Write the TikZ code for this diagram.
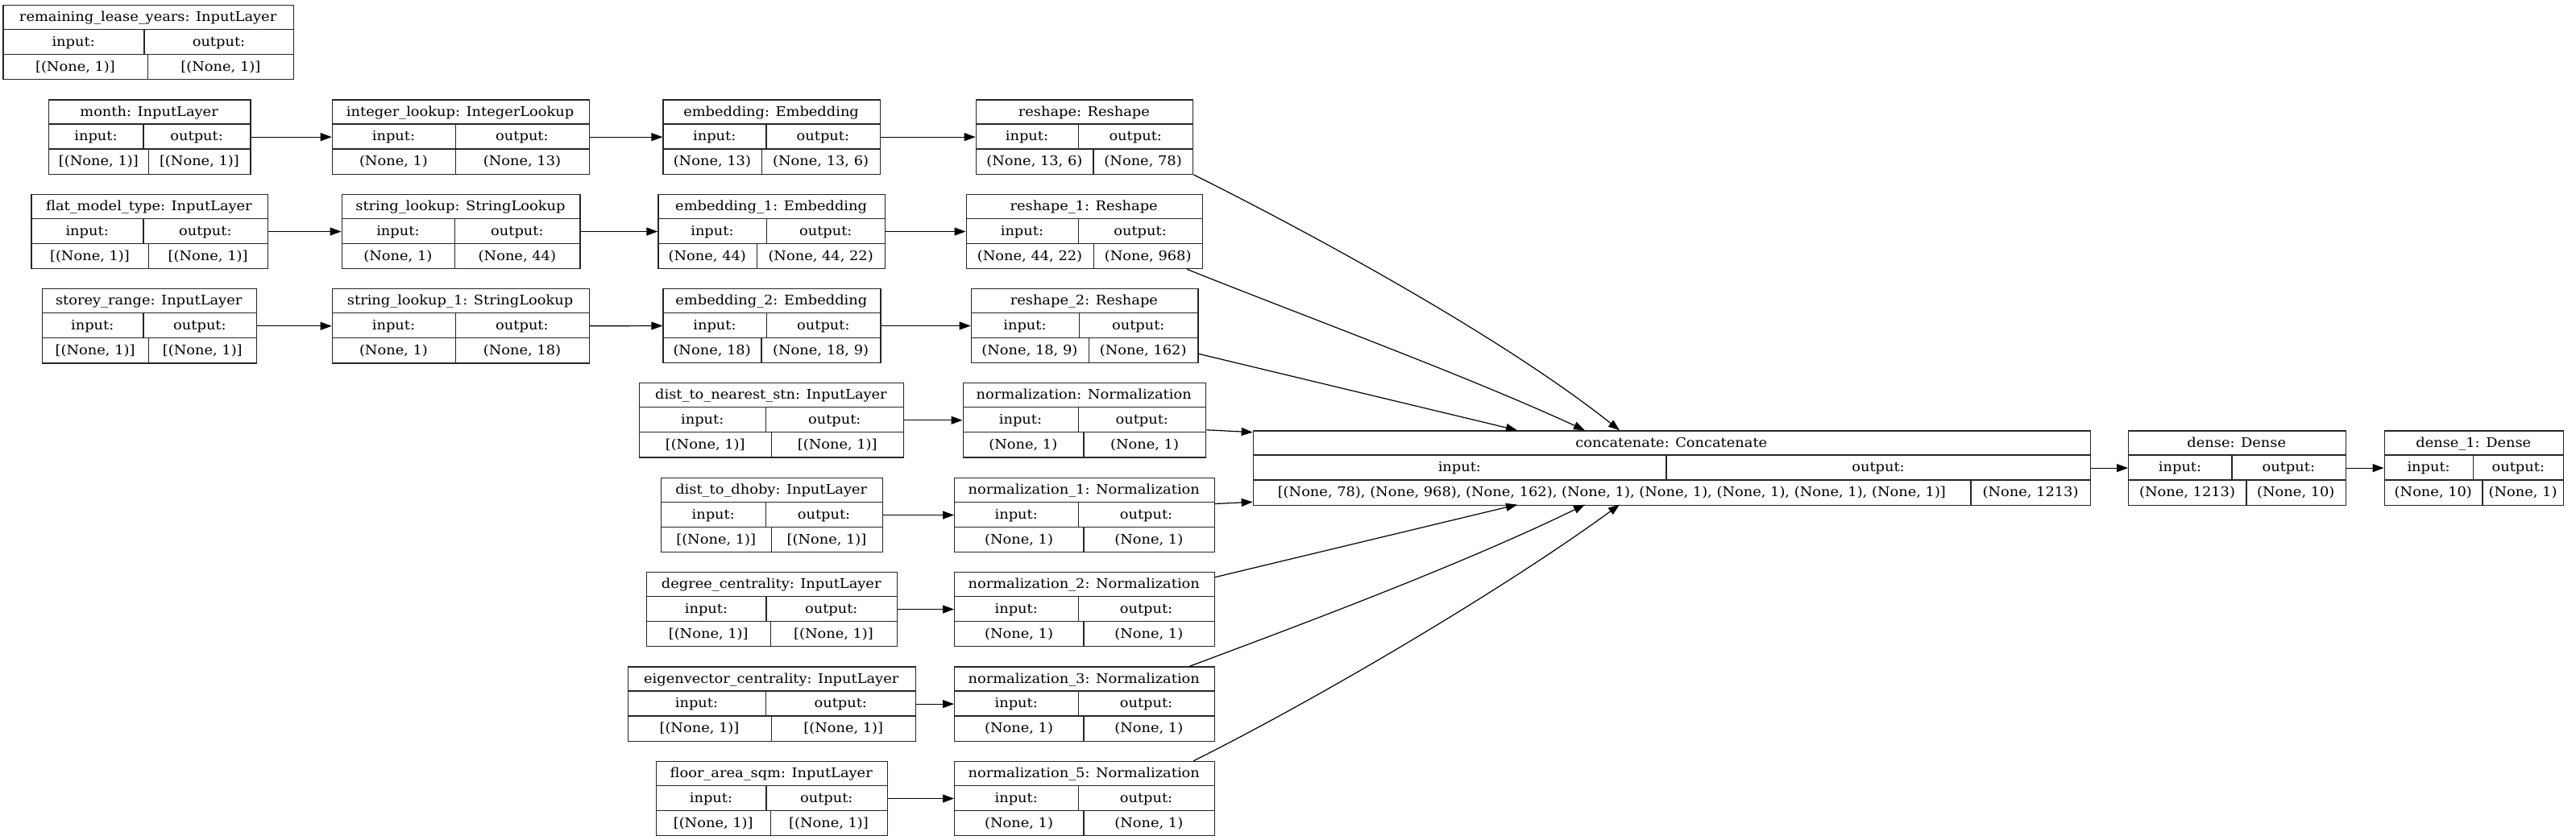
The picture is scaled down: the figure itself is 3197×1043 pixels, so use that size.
\documentclass[tikz,border=0pt]{standalone}
\usepackage{fontspec}
\setmainfont{DejaVu Serif}[FakeStretch=1.08]
\usetikzlibrary{arrows.meta,calc}
\tikzset{
  lbox/.style={draw=black!85, line width=1.33pt, inner sep=0pt, minimum height=92.3pt, fill=none},
  lline/.style={draw=black!85, line width=1.33pt},
  ltxt/.style={inner sep=0pt, text height=14pt, text depth=3pt, font=\fontsize{16.5}{19}\selectfont},
  arr/.style={draw=black, line width=1.2pt, -{Triangle[length=14pt,width=10pt]}},
}
\newcommand\klayer[9]{%
  \node[lbox, minimum width={(#3-(#2))*1pt}, anchor=north west] (#1) at (#2,#4) {};
  \draw[lline] (#2,#4+30.77) -- (#3,#4+30.77) (#2,#4+61.54) -- (#3,#4+61.54)
    (#5,#4+30.77) -- (#5,#4+61.54) (#6,#4+61.54) -- (#6,#4+92.3);
  \node[ltxt] (#1-title) at ({(#2+#3)/2},#4+15.4) {#7};
  \node[ltxt] (#1-in) at ({(#2+#5)/2},#4+46.15) {input:};
  \node[ltxt] (#1-out) at ({(#5+#3)/2},#4+46.15) {output:};
  \node[ltxt] (#1-ins) at ({(#2+#6)/2},#4+76.9) {#8};
  \node[ltxt] (#1-outs) at ({(#6+#3)/2},#4+76.9) {#9};
}
\begin{document}
\begin{tikzpicture}[x=1pt,y=-1pt]
\useasboundingbox[fill=white] (0,0) rectangle (3197,1043);
% column 1
\klayer{rly}{3.3}{364}{5.7}{179}{183.7}{remaining\_lease\_years: InputLayer}{[(None, 1)]}{[(None, 1)]}
\klayer{month}{60}{310.2}{123.3}{178}{184.7}{month: InputLayer}{[(None, 1)]}{[(None, 1)]}
\klayer{flat}{38.3}{331.6}{240.7}{178}{184.7}{flat\_model\_type: InputLayer}{[(None, 1)]}{[(None, 1)]}
\klayer{storey}{51.5}{317.9}{358}{178}{184.7}{storey\_range: InputLayer}{[(None, 1)]}{[(None, 1)]}
% column 2
\klayer{intlk}{411.7}{730.6}{123.3}{565.3}{565.3}{integer\_lookup: IntegerLookup}{(None, 1)}{(None, 13)}
\klayer{strlk}{423.5}{719.4}{240.7}{564.3}{564.3}{string\_lookup: StringLookup}{(None, 1)}{(None, 44)}
\klayer{strlka}{411.7}{730.6}{358}{565.3}{565.3}{string\_lookup\_1: StringLookup}{(None, 1)}{(None, 18)}
% column 3
\klayer{emb}{822.4}{1091.8}{123.3}{951}{945.4}{embedding: Embedding}{(None, 13)}{(None, 13, 6)}
\klayer{emba}{816.3}{1098}{240.7}{951.5}{939.3}{embedding\_1: Embedding}{(None, 44)}{(None, 44, 22)}
\klayer{embb}{822.4}{1092.3}{357.7}{951.5}{944.9}{embedding\_2: Embedding}{(None, 18)}{(None, 18, 9)}
\klayer{dns}{793}{1121}{475}{950.5}{957.5}{dist\_to\_nearest\_stn: InputLayer}{[(None, 1)]}{[(None, 1)]}
\klayer{ddh}{820}{1094.5}{592.7}{950.5}{957.5}{dist\_to\_dhoby: InputLayer}{[(None, 1)]}{[(None, 1)]}
\klayer{deg}{802}{1112.5}{709.7}{951}{956.5}{degree\_centrality: InputLayer}{[(None, 1)]}{[(None, 1)]}
\klayer{eig}{778.5}{1136}{827.3}{950.5}{957.5}{eigenvector\_centrality: InputLayer}{[(None, 1)]}{[(None, 1)]}
\klayer{fas}{814}{1100.5}{944.7}{951}{956.5}{floor\_area\_sqm: InputLayer}{[(None, 1)]}{[(None, 1)]}
% column 4
\klayer{resh}{1210.7}{1480.1}{123.3}{1338.3}{1357.1}{reshape: Reshape}{(None, 13, 6)}{(None, 78)}
\klayer{resha}{1198.5}{1491.8}{240.7}{1338.3}{1357.6}{reshape\_1: Reshape}{(None, 44, 22)}{(None, 968)}
\klayer{reshb}{1204.6}{1486.2}{357.7}{1339.3}{1351.2}{reshape\_2: Reshape}{(None, 18, 9)}{(None, 162)}
\klayer{norm}{1194.5}{1496}{475}{1338.5}{1345}{normalization: Normalization}{(None, 1)}{(None, 1)}
\klayer{norma}{1184}{1506.5}{592.7}{1338.5}{1345}{normalization\_1: Normalization}{(None, 1)}{(None, 1)}
\klayer{normb}{1184}{1506.5}{709.7}{1338.5}{1345}{normalization\_2: Normalization}{(None, 1)}{(None, 1)}
\klayer{normc}{1184}{1506.5}{827.3}{1338.5}{1345}{normalization\_3: Normalization}{(None, 1)}{(None, 1)}
\klayer{normd}{1184}{1506.5}{944.7}{1338.5}{1345}{normalization\_5: Normalization}{(None, 1)}{(None, 1)}
% right part
\klayer{concat}{1554.7}{2594}{534.3}{2068}{2446}{concatenate: Concatenate}{[(None, 78), (None, 968), (None, 162), (None, 1), (None, 1), (None, 1), (None, 1), (None, 1)]}{(None, 1213)}
\klayer{dense}{2641}{2910.6}{534.3}{2770}{2788}{dense: Dense}{(None, 1213)}{(None, 10)}
\klayer{densea}{2958.6}{3181}{534.3}{3069.6}{3081}{dense\_1: Dense}{(None, 10)}{(None, 1)}
% attachment points on concatenate
\coordinate (ct1) at (1883,534.3);
\coordinate (ct2) at (1967,534.3);
\coordinate (ct3) at (2010,534.3);
\coordinate (cb1) at (1883,626.6);
\coordinate (cb2) at (1967,626.6);
\coordinate (cb3) at (2010,626.6);
\coordinate (cl1) at (1554.7,536.7);
\coordinate (cl2) at (1554.7,623.3);
% horizontal edges
\draw[arr] (month.east) -- (intlk.west);
\draw[arr] (intlk.east) -- (emb.west);
\draw[arr] (emb.east) -- (resh.west);
\draw[arr] (flat.east) -- (strlk.west);
\draw[arr] (strlk.east) -- (emba.west);
\draw[arr] (emba.east) -- (resha.west);
\draw[arr] (storey.east) -- (strlka.west);
\draw[arr] (strlka.east) -- (embb.west);
\draw[arr] (embb.east) -- (reshb.west);
\draw[arr] (dns.east) -- (norm.west);
\draw[arr] (ddh.east) -- (norma.west);
\draw[arr] (deg.east) -- (normb.west);
\draw[arr] (eig.east) -- (normc.west);
\draw[arr] (fas.east) -- (normd.west);
\draw[arr] (concat.east) -- (dense.west);
\draw[arr] (dense.east) -- (densea.west);
% edges into concatenate
\draw[arr] (resh.south east) .. controls +(160,80) and +(-141,-112) .. (ct3);
\draw[arr] ($(resha.south east)+(-20,0)$) .. controls +(150,60) and +(-150,-69) .. (ct2);
\draw[arr] ($(reshb.south east)+(0,-12)$) -- (ct1);
\draw[arr] ($(norm.east)+(0,12)$) -- (cl1);
\draw[arr] ($(norma.east)+(0,-14)$) -- (cl2);
\draw[arr] ($(normb.north east)+(0,7)$) -- (cb1);
\draw[arr] ($(normc.north east)+(-31.5,0)$) .. controls +(150,-56) and +(-150,73) .. (cb2);
\draw[arr] ($(normd.north east)+(-26.5,0)$) .. controls +(160,-80) and +(-141,103) .. (cb3);
\end{tikzpicture}
\end{document}
